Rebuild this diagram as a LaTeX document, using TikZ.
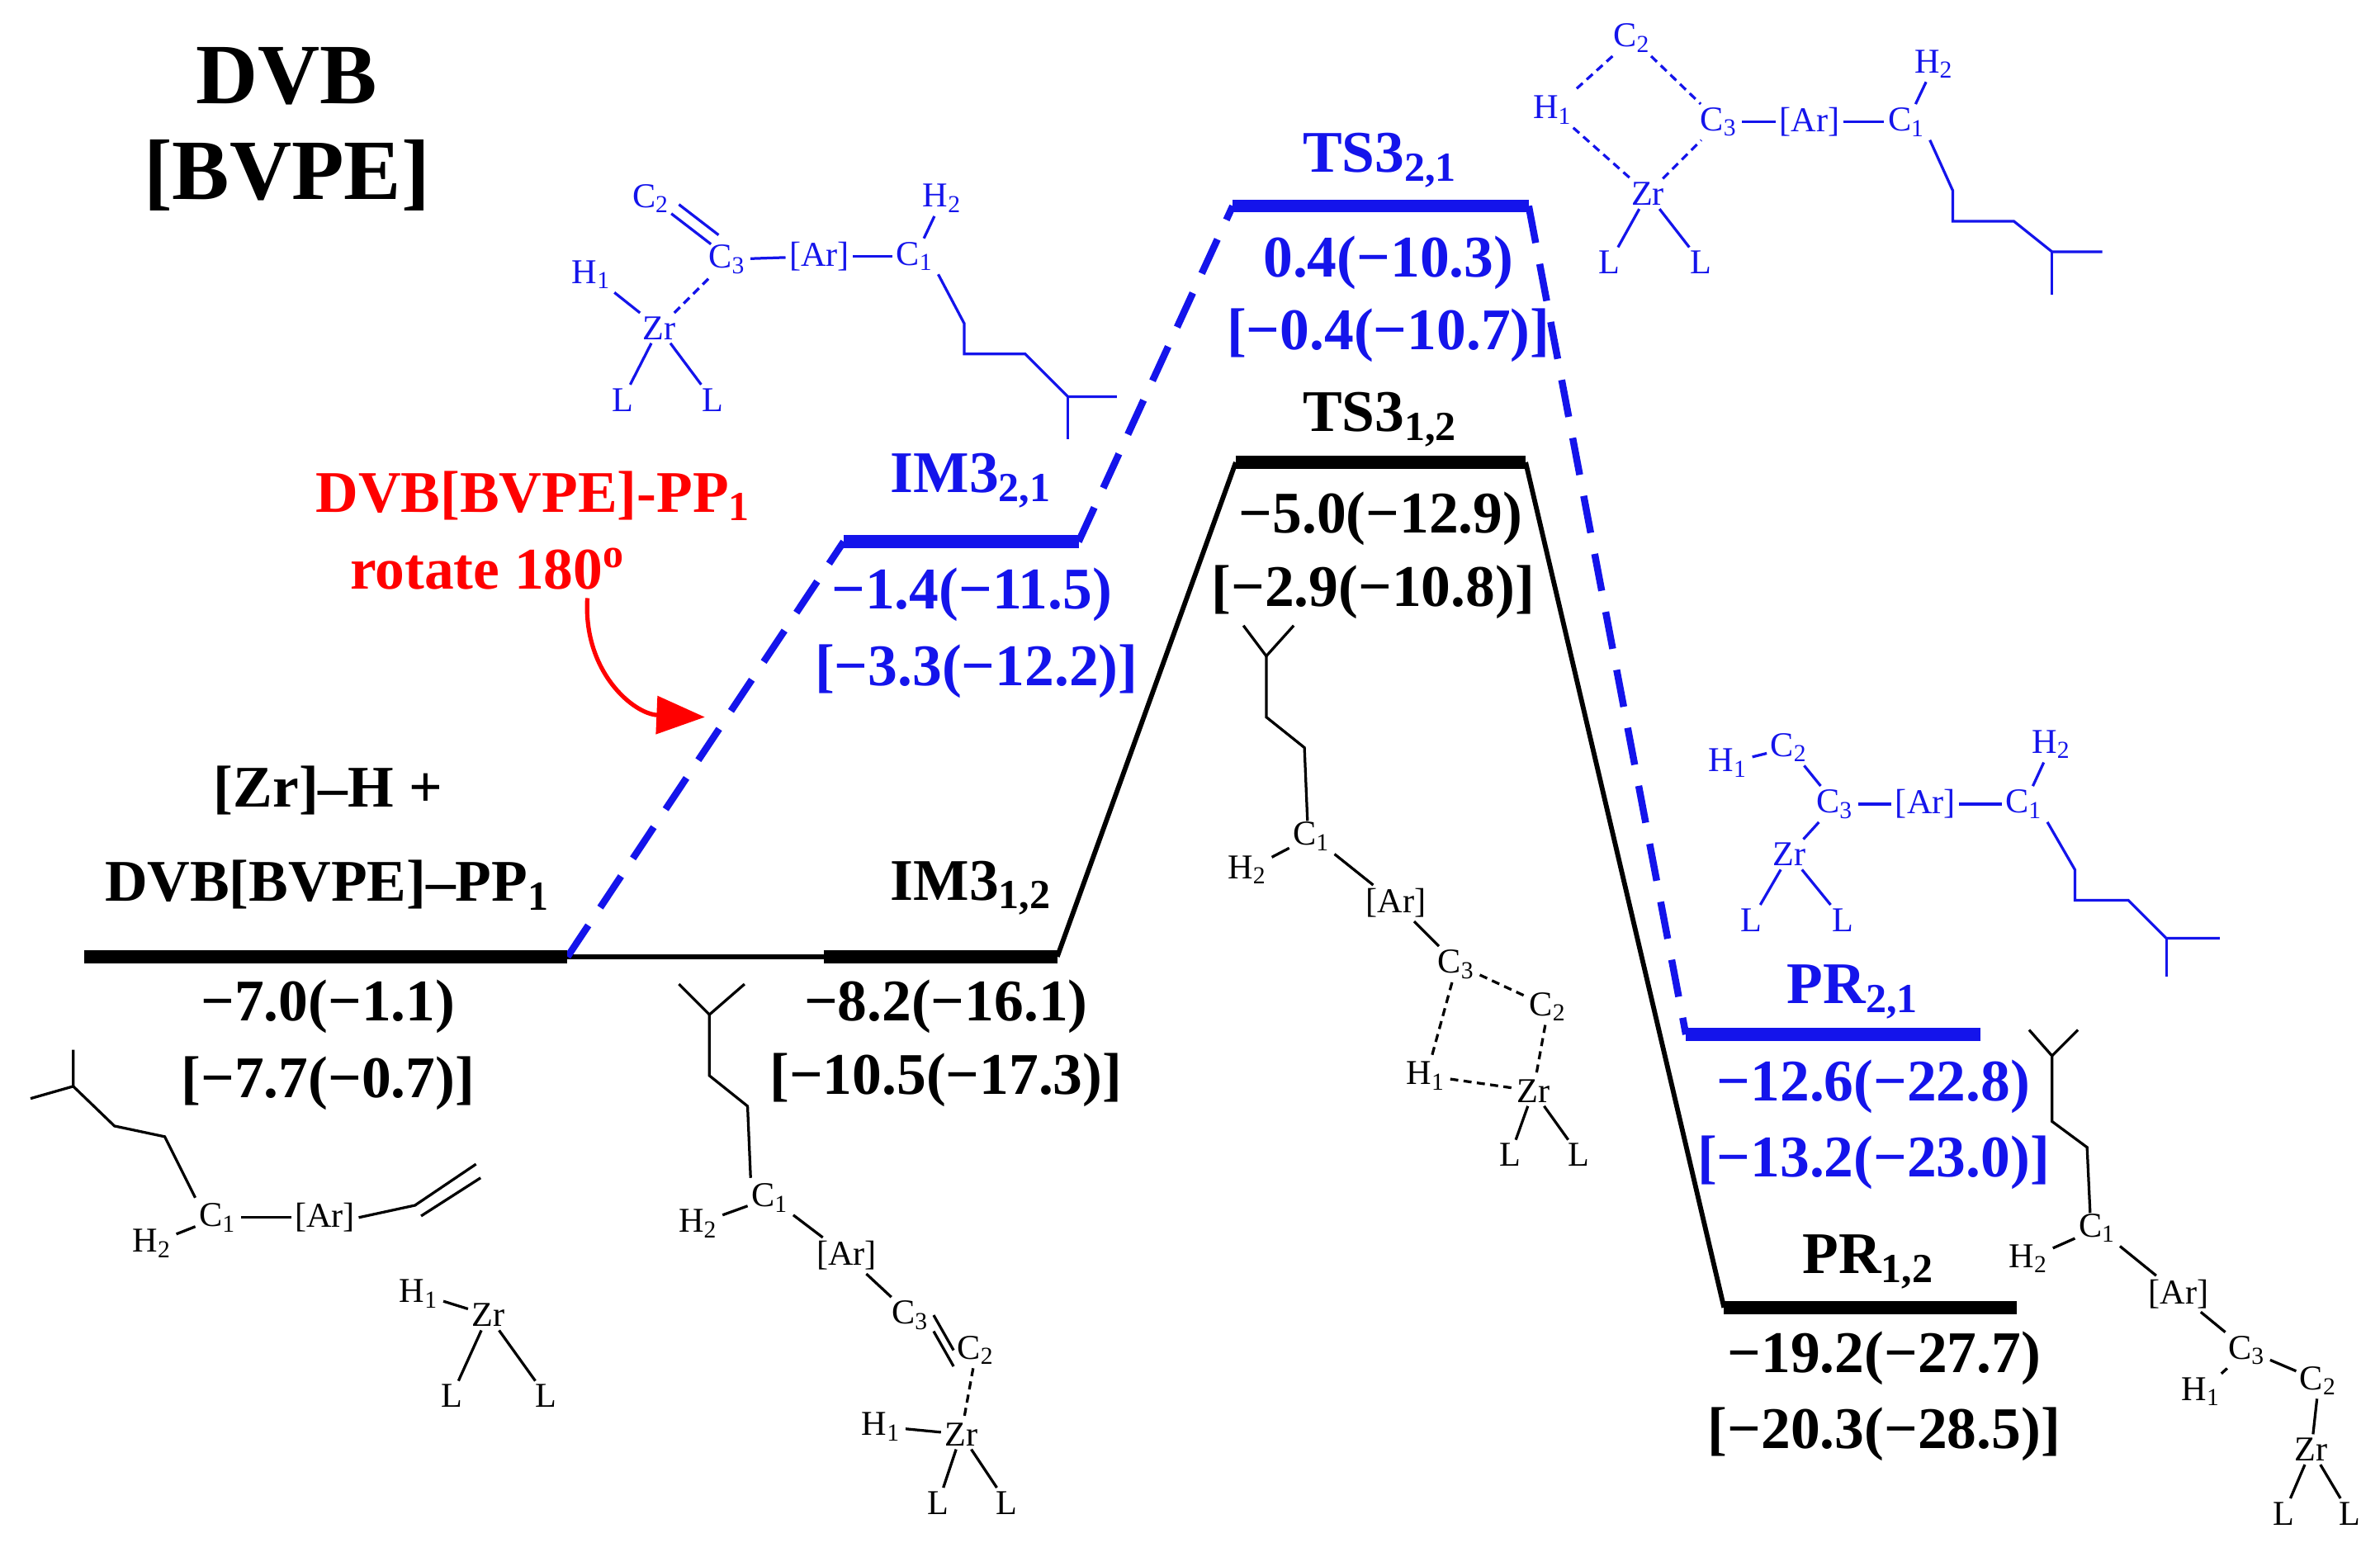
\documentclass[tikz,border=0pt]{standalone}
\usepackage{fontspec}
\setmainfont{Liberation Serif}
\usetikzlibrary{arrows.meta}
\definecolor{bl}{RGB}{20,20,235}
\tikzset{
 lev/.style={line width=2.4pt},
 conn/.style={line width=0.9pt},
 bconn/.style={line width=1.3pt,bl,dash pattern=on 7pt off 4pt},
 lab/.style={font=\fontsize{11}{13}\selectfont\bfseries,inner sep=0pt},
 big/.style={font=\fontsize{16}{19}\selectfont\bfseries,inner sep=0pt},
 ml/.style={font=\fontsize{6.5}{7}\selectfont,inner sep=0.5pt},
 bd/.style={line width=0.5pt},
 db/.style={line width=0.5pt,dashed,dash pattern=on 1.5pt off 1pt},
}
\begin{document}
\begin{tikzpicture}[x=0.01cm,y=-0.01cm]
\useasboundingbox (0,0) rectangle (1560,1020);
\fill[white] (0,0) rectangle (1560,1020);
% levels
\coordinate (r1) at (55,627); \coordinate (r2) at (372,627);
\coordinate (i1) at (540,627); \coordinate (i2) at (693,627);
\coordinate (t1) at (810,303); \coordinate (t2) at (1000,303);
\coordinate (p1) at (1130,857); \coordinate (p2) at (1322,857);
\coordinate (bi1) at (553,355); \coordinate (bi2) at (707,355);
\coordinate (bt1) at (808,135); \coordinate (bt2) at (1002,135);
\coordinate (bp1) at (1105,678); \coordinate (bp2) at (1298,678);
\draw[conn] (r2) -- (i1); \draw[conn] (i2) -- (t1); \draw[conn] (t2) -- (p1);
\draw[bconn] (r2) -- (bi1); \draw[bconn] (bi2) -- (bt1); \draw[bconn] (bt2) -- (bp1);
\draw[lev] (r1) -- (r2); \draw[lev] (i1) -- (i2); \draw[lev] (t1) -- (t2); \draw[lev] (p1) -- (p2);
\draw[lev,bl] (bi1) -- (bi2); \draw[lev,bl] (bt1) -- (bt2); \draw[lev,bl] (bp1) -- (bp2);
% titles
\node[big] (ta) at (188,50) {DVB};
\node[big] (tb) at (188,115) {[BVPE]};
% labels black
\node[lab] (l1) at (215,518) {[Zr]–H +};
\node[lab] (l2) at (215,580) {DVB[BVPE]–PP\textsubscript{1}};
\node[lab] (l3) at (215,660) {−7.0(−1.1)};
\node[lab] (l4) at (215,710) {[−7.7(−0.7)]};
\node[lab] (l5) at (637,582) {IM3\textsubscript{1,2}};
\node[lab] (l6) at (620,660) {−8.2(−16.1)};
\node[lab] (l7) at (620,708) {[−10.5(−17.3)]};
\node[lab] (l8) at (905,275) {TS3\textsubscript{1,2}};
\node[lab] (l9) at (905,340) {−5.0(−12.9)};
\node[lab] (l10) at (900,388) {[−2.9(−10.8)]};
\node[lab] (l11) at (1225,827) {PR\textsubscript{1,2}};
\node[lab] (l12) at (1235,890) {−19.2(−27.7)};
\node[lab] (l13) at (1235,940) {[−20.3(−28.5)]};
% labels blue
\begin{scope}[bl]
\node[lab] (b1) at (637,315) {IM3\textsubscript{2,1}};
\node[lab] (b2) at (637,390) {−1.4(−11.5)};
\node[lab] (b3) at (640,440) {[−3.3(−12.2)]};
\node[lab] (b4) at (905,105) {TS3\textsubscript{2,1}};
\node[lab] (b5) at (910,172) {0.4(−10.3)};
\node[lab] (b6) at (910,220) {[−0.4(−10.7)]};
\node[lab] (b7) at (1215,650) {PR\textsubscript{2,1}};
\node[lab] (b8) at (1228,712) {−12.6(−22.8)};
\node[lab] (b9) at (1228,762) {[−13.2(−23.0)]};
\end{scope}
% red
\node[lab,red] (rd1) at (350,325) {DVB[BVPE]-PP\textsubscript{1}};
\node[lab,red] (rd2) at (320,373) {rotate 180\textsuperscript{o}};
\coordinate (ra) at (385,392); \coordinate (rb) at (462,470);
\draw[red,line width=0.8pt,-{Triangle[length=9pt,width=7pt]}] (ra) .. controls (382,440) and (415,468) .. (rb);
% molecule 1
\draw[bd] (20,720) -- (48,712) -- (48,688); \draw[bd] (48,712) -- (75,738) -- (108,745) -- (128,785);
\node[ml] (m1h) at (100,815) {H\textsubscript{2}};
\node[ml] (m1c) at (143,798) {C\textsubscript{1}};
\node[ml] (m1a) at (213,798) {[Ar]};
\draw[bd] (m1h) -- (m1c); \draw[bd] (m1c) -- (m1a);
\draw[bd] (m1a.east) -- (272,790) -- (312,763); \draw[bd] (276,797) -- (315,772);
\node[ml] (m1H) at (275,848) {H\textsubscript{1}};
\node[ml] (m1z) at (320,862) {Zr};
\node[ml] (m1l1) at (296,915) {L}; \node[ml] (m1l2) at (358,915) {L};
\draw[bd] (m1H) -- (m1z); \draw[bd] (m1z) -- (m1l1); \draw[bd] (m1z) -- (m1l2);
% molecule 2
\draw[bd] (445,645) -- (465,665) -- (488,645); \draw[bd] (465,665) -- (465,705) -- (490,725) -- (492,772);
\node[ml] (m2c) at (505,785) {C\textsubscript{1}};
\node[ml] (m2h) at (458,802) {H\textsubscript{2}};
\node[ml] (m2a) at (555,823) {[Ar]};
\node[ml] (m2c3) at (597,862) {C\textsubscript{3}};
\node[ml] (m2c2) at (640,885) {C\textsubscript{2}};
\node[ml] (m2H) at (578,935) {H\textsubscript{1}};
\node[ml] (m2z) at (630,940) {Zr};
\node[ml] (m2l1) at (615,985) {L}; \node[ml] (m2l2) at (660,985) {L};
\draw[bd] (m2h) -- (m2c); \draw[bd] (m2c) -- (m2a); \draw[bd] (m2a) -- (m2c3);
\draw[bd] (m2c3.east) -- (m2c2.west); \draw[bd] ([yshift=-3pt]m2c3.east) -- ([yshift=-3pt]m2c2.west);
\draw[db] (m2c2) -- (m2z); \draw[bd] (m2H) -- (m2z); \draw[bd] (m2z) -- (m2l1); \draw[bd] (m2z) -- (m2l2);
% molecule 3
\draw[bd] (815,410) -- (830,430) -- (848,410); \draw[bd] (830,430) -- (830,470) -- (855,490) -- (857,538);
\node[ml] (m3c) at (860,548) {C\textsubscript{1}};
\node[ml] (m3h) at (818,570) {H\textsubscript{2}};
\node[ml] (m3a) at (915,592) {[Ar]};
\node[ml] (m3c3) at (955,632) {C\textsubscript{3}};
\node[ml] (m3c2) at (1015,660) {C\textsubscript{2}};
\node[ml] (m3H) at (935,705) {H\textsubscript{1}};
\node[ml] (m3z) at (1005,715) {Zr};
\node[ml] (m3l1) at (990,757) {L}; \node[ml] (m3l2) at (1035,757) {L};
\draw[bd] (m3h) -- (m3c); \draw[bd] (m3c) -- (m3a); \draw[bd] (m3a) -- (m3c3);
\draw[db] (m3c3) -- (m3c2); \draw[db] (m3c3) -- (m3H); \draw[db] (m3H) -- (m3z); \draw[db] (m3c2) -- (m3z);
\draw[bd] (m3z) -- (m3l1); \draw[bd] (m3z) -- (m3l2);
% molecule 7
\draw[bd] (1330,675) -- (1345,692) -- (1362,675); \draw[bd] (1345,692) -- (1345,735) -- (1368,752) -- (1370,795);
\node[ml] (m7c) at (1375,805) {C\textsubscript{1}};
\node[ml] (m7h) at (1330,825) {H\textsubscript{2}};
\node[ml] (m7a) at (1428,848) {[Ar]};
\node[ml] (m7c3) at (1473,885) {C\textsubscript{3}};
\node[ml] (m7c2) at (1520,905) {C\textsubscript{2}};
\node[ml] (m7H) at (1443,912) {H\textsubscript{1}};
\node[ml] (m7z) at (1515,950) {Zr};
\node[ml] (m7l1) at (1497,992) {L}; \node[ml] (m7l2) at (1540,992) {L};
\draw[bd] (m7h) -- (m7c); \draw[bd] (m7c) -- (m7a); \draw[bd] (m7a) -- (m7c3); \draw[bd] (m7c3) -- (m7c2);
\draw[bd] (m7c3) -- (m7H); \draw[bd] (m7c2) -- (m7z); \draw[bd] (m7z) -- (m7l1); \draw[bd] (m7z) -- (m7l2);
% blue molecules
\begin{scope}[bl]
% molecule 4
\node[ml] (m4c2) at (427,130) {C\textsubscript{2}};
\node[ml] (m4c3) at (477,170) {C\textsubscript{3}};
\node[ml] (m4H) at (388,180) {H\textsubscript{1}};
\node[ml] (m4z) at (432,215) {Zr};
\node[ml] (m4a) at (537,168) {[Ar]};
\node[ml] (m4c1) at (600,168) {C\textsubscript{1}};
\node[ml] (m4h2) at (618,130) {H\textsubscript{2}};
\node[ml] (m4l1) at (408,262) {L}; \node[ml] (m4l2) at (467,262) {L};
\draw[bd] (440,140) -- (466,160); \draw[bd] (445,134) -- (471,154);
\draw[bd] (m4c3) -- (m4a); \draw[bd] (m4a) -- (m4c1); \draw[bd] (m4c1) -- (m4h2);
\draw[bd] (m4H) -- (m4z); \draw[db] (m4z) -- (m4c3); \draw[bd] (m4z) -- (m4l1); \draw[bd] (m4z) -- (m4l2);
\draw[bd] (m4c1.south east) -- (632,212) -- (632,232) -- (672,232) -- (700,260) -- (732,260); \draw[bd] (700,260) -- (700,288);
% molecule 5
\node[ml] (m5c2) at (1070,25) {C\textsubscript{2}};
\node[ml] (m5H) at (1018,72) {H\textsubscript{1}};
\node[ml] (m5c3) at (1127,80) {C\textsubscript{3}};
\node[ml] (m5a) at (1186,80) {[Ar]};
\node[ml] (m5c1) at (1250,80) {C\textsubscript{1}};
\node[ml] (m5h2) at (1268,42) {H\textsubscript{2}};
\node[ml] (m5z) at (1080,127) {Zr};
\node[ml] (m5l1) at (1055,172) {L}; \node[ml] (m5l2) at (1115,172) {L};
\draw[db] (m5c2) -- (m5H); \draw[db] (m5c2) -- (m5c3); \draw[db] (m5H) -- (m5z); \draw[db] (m5z) -- (m5c3);
\draw[bd] (m5c3) -- (m5a); \draw[bd] (m5a) -- (m5c1); \draw[bd] (m5c1) -- (m5h2);
\draw[bd] (m5z) -- (m5l1); \draw[bd] (m5z) -- (m5l2);
\draw[bd] (m5c1.south east) -- (1280,125) -- (1280,145) -- (1320,145) -- (1345,165) -- (1378,165); \draw[bd] (1345,165) -- (1345,193);
% molecule 6
\node[ml] (m6H) at (1133,500) {H\textsubscript{1}};
\node[ml] (m6c2) at (1173,490) {C\textsubscript{2}};
\node[ml] (m6c3) at (1203,527) {C\textsubscript{3}};
\node[ml] (m6a) at (1262,527) {[Ar]};
\node[ml] (m6c1) at (1327,527) {C\textsubscript{1}};
\node[ml] (m6h2) at (1345,488) {H\textsubscript{2}};
\node[ml] (m6z) at (1173,560) {Zr};
\node[ml] (m6l1) at (1148,603) {L}; \node[ml] (m6l2) at (1208,603) {L};
\draw[bd] (m6H) -- (m6c2); \draw[bd] (m6c2) -- (m6c3); \draw[bd] (m6c3) -- (m6a); \draw[bd] (m6a) -- (m6c1); \draw[bd] (m6c1) -- (m6h2);
\draw[bd] (m6c3) -- (m6z); \draw[bd] (m6z) -- (m6l1); \draw[bd] (m6z) -- (m6l2);
\draw[bd] (m6c1.south east) -- (1360,570) -- (1360,590) -- (1395,590) -- (1420,615) -- (1455,615); \draw[bd] (1420,615) -- (1420,640);
\end{scope}
\end{tikzpicture}
\end{document}
